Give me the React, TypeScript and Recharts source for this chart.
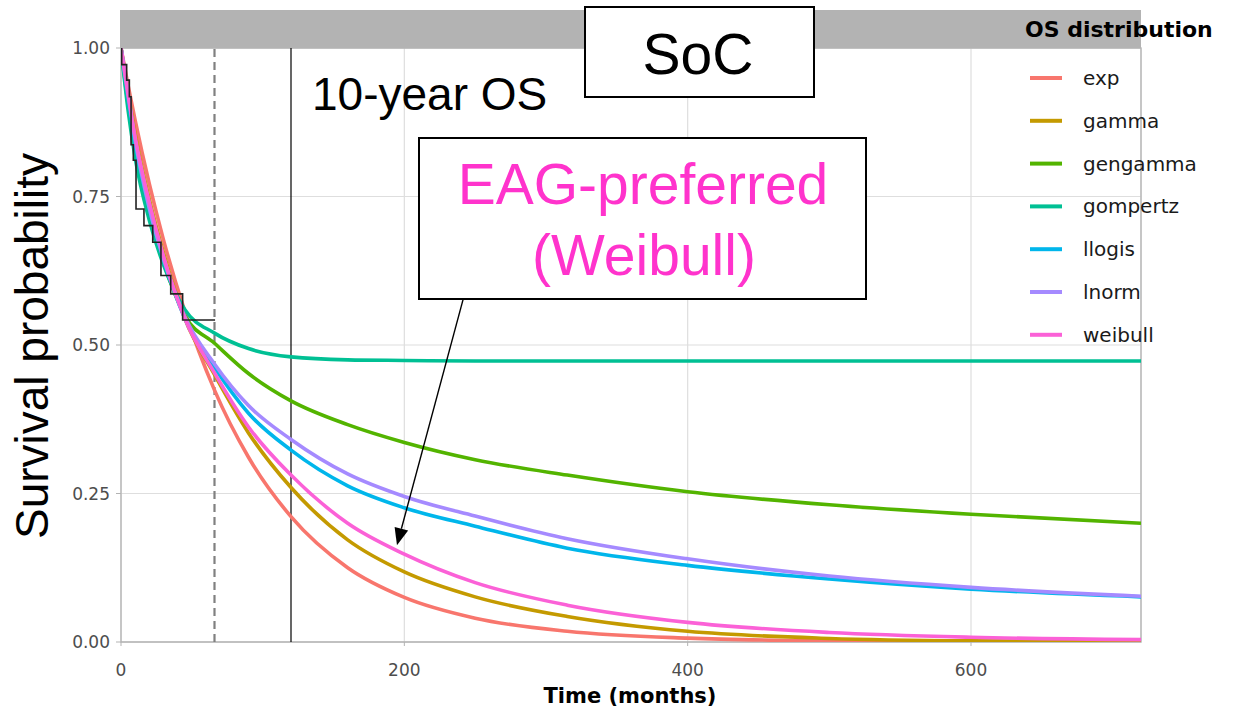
import { LineChart, Line, XAxis, YAxis, CartesianGrid, ReferenceLine, ReferenceArea } from "recharts";

// time grid (months) for the fitted curves
const TIMES = [0, 5, 10, 20, 30, 45, 66, 90, 120, 160, 200, 250, 315, 400, 500, 600, 720];

// survival, one list per distribution
const EXP = [1, 0.937, 0.878, 0.771, 0.677, 0.557, 0.424, 0.311, 0.211, 0.125, 0.075, 0.04, 0.018, 0.0065, 0.002, 0.0007, 0.0002];
const GAMMA = [1, 0.925, 0.855, 0.745, 0.655, 0.545, 0.45, 0.352, 0.26, 0.172, 0.118, 0.076, 0.043, 0.018, 0.006, 0.002, 0.0008];
const GENGAMMA = [1, 0.905, 0.83, 0.725, 0.64, 0.55, 0.503, 0.452, 0.406, 0.366, 0.336, 0.307, 0.281, 0.253, 0.231, 0.215, 0.2];
const GOMPERTZ = [1, 0.895, 0.815, 0.71, 0.635, 0.56, 0.52, 0.494, 0.48, 0.475, 0.474, 0.473, 0.473, 0.473, 0.473, 0.473, 0.473];
const LLOGIS = [1, 0.915, 0.84, 0.73, 0.645, 0.545, 0.462, 0.385, 0.323, 0.263, 0.226, 0.195, 0.158, 0.129, 0.106, 0.089, 0.076];
const LNORM = [1, 0.925, 0.845, 0.73, 0.645, 0.548, 0.468, 0.398, 0.341, 0.283, 0.245, 0.212, 0.174, 0.14, 0.111, 0.092, 0.077];
const WEIBULL = [1, 0.92, 0.85, 0.74, 0.65, 0.545, 0.453, 0.362, 0.281, 0.2, 0.148, 0.1, 0.062, 0.033, 0.016, 0.008, 0.004];

// Kaplan-Meier steps
const KM_TIMES = [0, 0.5, 4, 5.9, 7.1, 8.7, 10.6, 16.2, 22.4, 28.2, 35.1, 43.5, 66.4];
const KM_SURV = [1, 0.972, 0.946, 0.918, 0.837, 0.811, 0.729, 0.701, 0.673, 0.617, 0.586, 0.542, 0.542];

const X_TICKS = [0, 200, 400, 600];
const Y_TICKS = [0, 0.25, 0.5, 0.75, 1];
const FOLLOW_UP = 66;
const TEN_YEAR = 120;

const NAMES = ["exp", "gamma", "gengamma", "gompertz", "llogis", "lnorm", "weibull"];
const COLORS = ["#F8766D", "#C49A00", "#53B400", "#00C094", "#00B6EB", "#A58AFF", "#FB61D7"];
const VALUES = [EXP, GAMMA, GENGAMMA, GOMPERTZ, LLOGIS, LNORM, WEIBULL];

const rows = TIMES.map((t, i) => {
  const r: any = { t };
  NAMES.forEach((n, k) => (r[n] = VALUES[k][i]));
  return r;
});
const kmRows = KM_TIMES.map((t, i) => ({ t, km: KM_SURV[i] }));

const GG = "'DejaVu Sans', sans-serif";
const PPT = "'Liberation Sans', Arial, sans-serif";

// arrow drawn on a reference segment
const Arrow = (p: any) => {
  const { x1, y1, x2, y2 } = p;
  const a = Math.atan2(y2 - y1, x2 - x1);
  const len = 17;
  const half = 7;
  const bx = x2 - len * Math.cos(a);
  const by = y2 - len * Math.sin(a);
  const pts = `${x2},${y2} ${bx - half * Math.sin(a)},${by + half * Math.cos(a)} ${bx + half * Math.sin(a)},${by - half * Math.cos(a)}`;
  return (
    <g>
      <line x1={x1} y1={y1} x2={bx} y2={by} stroke="#000" strokeWidth={1.4} />
      <polygon points={pts} fill="#000" />
    </g>
  );
};

export default function App() {
  return (
    <div style={{ position: "absolute", left: 0, top: 0, width: 1243, height: 710, background: "#fff" }}>
      <LineChart width={1243} height={710} data={rows} margin={{ top: 48, right: 102, bottom: 38, left: 61 }}>
        <CartesianGrid stroke="#dedede" strokeWidth={1.2} />
        <XAxis
          type="number"
          dataKey="t"
          domain={[0, 720]}
          ticks={X_TICKS}
          allowDataOverflow
          axisLine={false}
          tickLine={{ stroke: "#b3b3b3" }}
          tickSize={4}
          tickMargin={18}
          height={30}
          tick={{ fill: "#4d4d4d", fontSize: 17, fontFamily: GG }}
        />
        <YAxis
          type="number"
          domain={[0, 1]}
          ticks={Y_TICKS}
          allowDataOverflow
          axisLine={false}
          tickLine={{ stroke: "#b3b3b3" }}
          tickSize={5}
          tickMargin={6}
          width={60}
          tickFormatter={(v: number) => v.toFixed(2)}
          tick={{ fill: "#4d4d4d", fontSize: 17, fontFamily: GG }}
        />
        <ReferenceArea x1={0} x2={720} y1={0} y2={1} fill="none" stroke="#b3b3b3" strokeWidth={1.3} ifOverflow="visible" />
        <ReferenceLine x={FOLLOW_UP} stroke="#808080" strokeWidth={2.2} strokeDasharray="8 5" />
        <ReferenceLine x={TEN_YEAR} stroke="#000" strokeWidth={1.2} />
        {NAMES.map((n, k) => (
          <Line
            key={n}
            type="monotone"
            dataKey={n}
            stroke={COLORS[k]}
            strokeWidth={3.6}
            dot={false}
            isAnimationActive={false}
          />
        ))}
        <Line data={kmRows} type="stepAfter" dataKey="km" stroke="#222" strokeWidth={1.6} dot={false} isAnimationActive={false} />
        <ReferenceLine
          segment={[
            { x: 241.4, y: 0.576 },
            { x: 194.8, y: 0.163 },
          ]}
          shape={Arrow}
          ifOverflow="visible"
        />
      </LineChart>

      <svg width={1243} height={710} style={{ position: "absolute", left: 0, top: 0, pointerEvents: "none" }}>
        {/* facet strip */}
        <rect x={120} y={10} width={1021} height={38} fill="#b3b3b3" />

        <text x={312} y={110} fontFamily={PPT} fontSize={46} fill="#000">
          10-year OS
        </text>

        <rect x={585} y={7} width={229} height={90} fill="#fff" stroke="#000" strokeWidth={2} />
        <text x={698} y={74} fontFamily={PPT} fontSize={57} fill="#000" textAnchor="middle">
          SoC
        </text>

        <rect x={419} y={138} width={447} height={161} fill="#fff" stroke="#000" strokeWidth={2} />
        <text x={643} y={204} fontFamily={PPT} fontSize={57} fill="#FF33CC" textAnchor="middle">
          EAG-preferred
        </text>
        <text x={644} y={275} fontFamily={PPT} fontSize={57} fill="#FF33CC" textAnchor="middle">
          (Weibull)
        </text>

        <text x={48} y={346} fontFamily={PPT} fontSize={46} fill="#000" textAnchor="middle" transform="rotate(-90 48 346)">
          Survival probability
        </text>
        <text x={630} y={703} fontFamily={GG} fontSize={21} fontWeight="bold" fill="#000" textAnchor="middle">
          Time (months)
        </text>

        {/* legend */}
        <text x={1025} y={37} fontFamily={GG} fontSize={22} fontWeight="bold" fill="#000">
          OS distribution
        </text>
        {NAMES.map((n, k) => {
          const cy = 78 + k * 42.8;
          return (
            <g key={n}>
              <line x1={1030} x2={1062} y1={cy} y2={cy} stroke={COLORS[k]} strokeWidth={4} />
              <text x={1083} y={cy + 7} fontFamily={GG} fontSize={20} fill="#1a1a1a">
                {n}
              </text>
            </g>
          );
        })}
      </svg>
    </div>
  );
}
